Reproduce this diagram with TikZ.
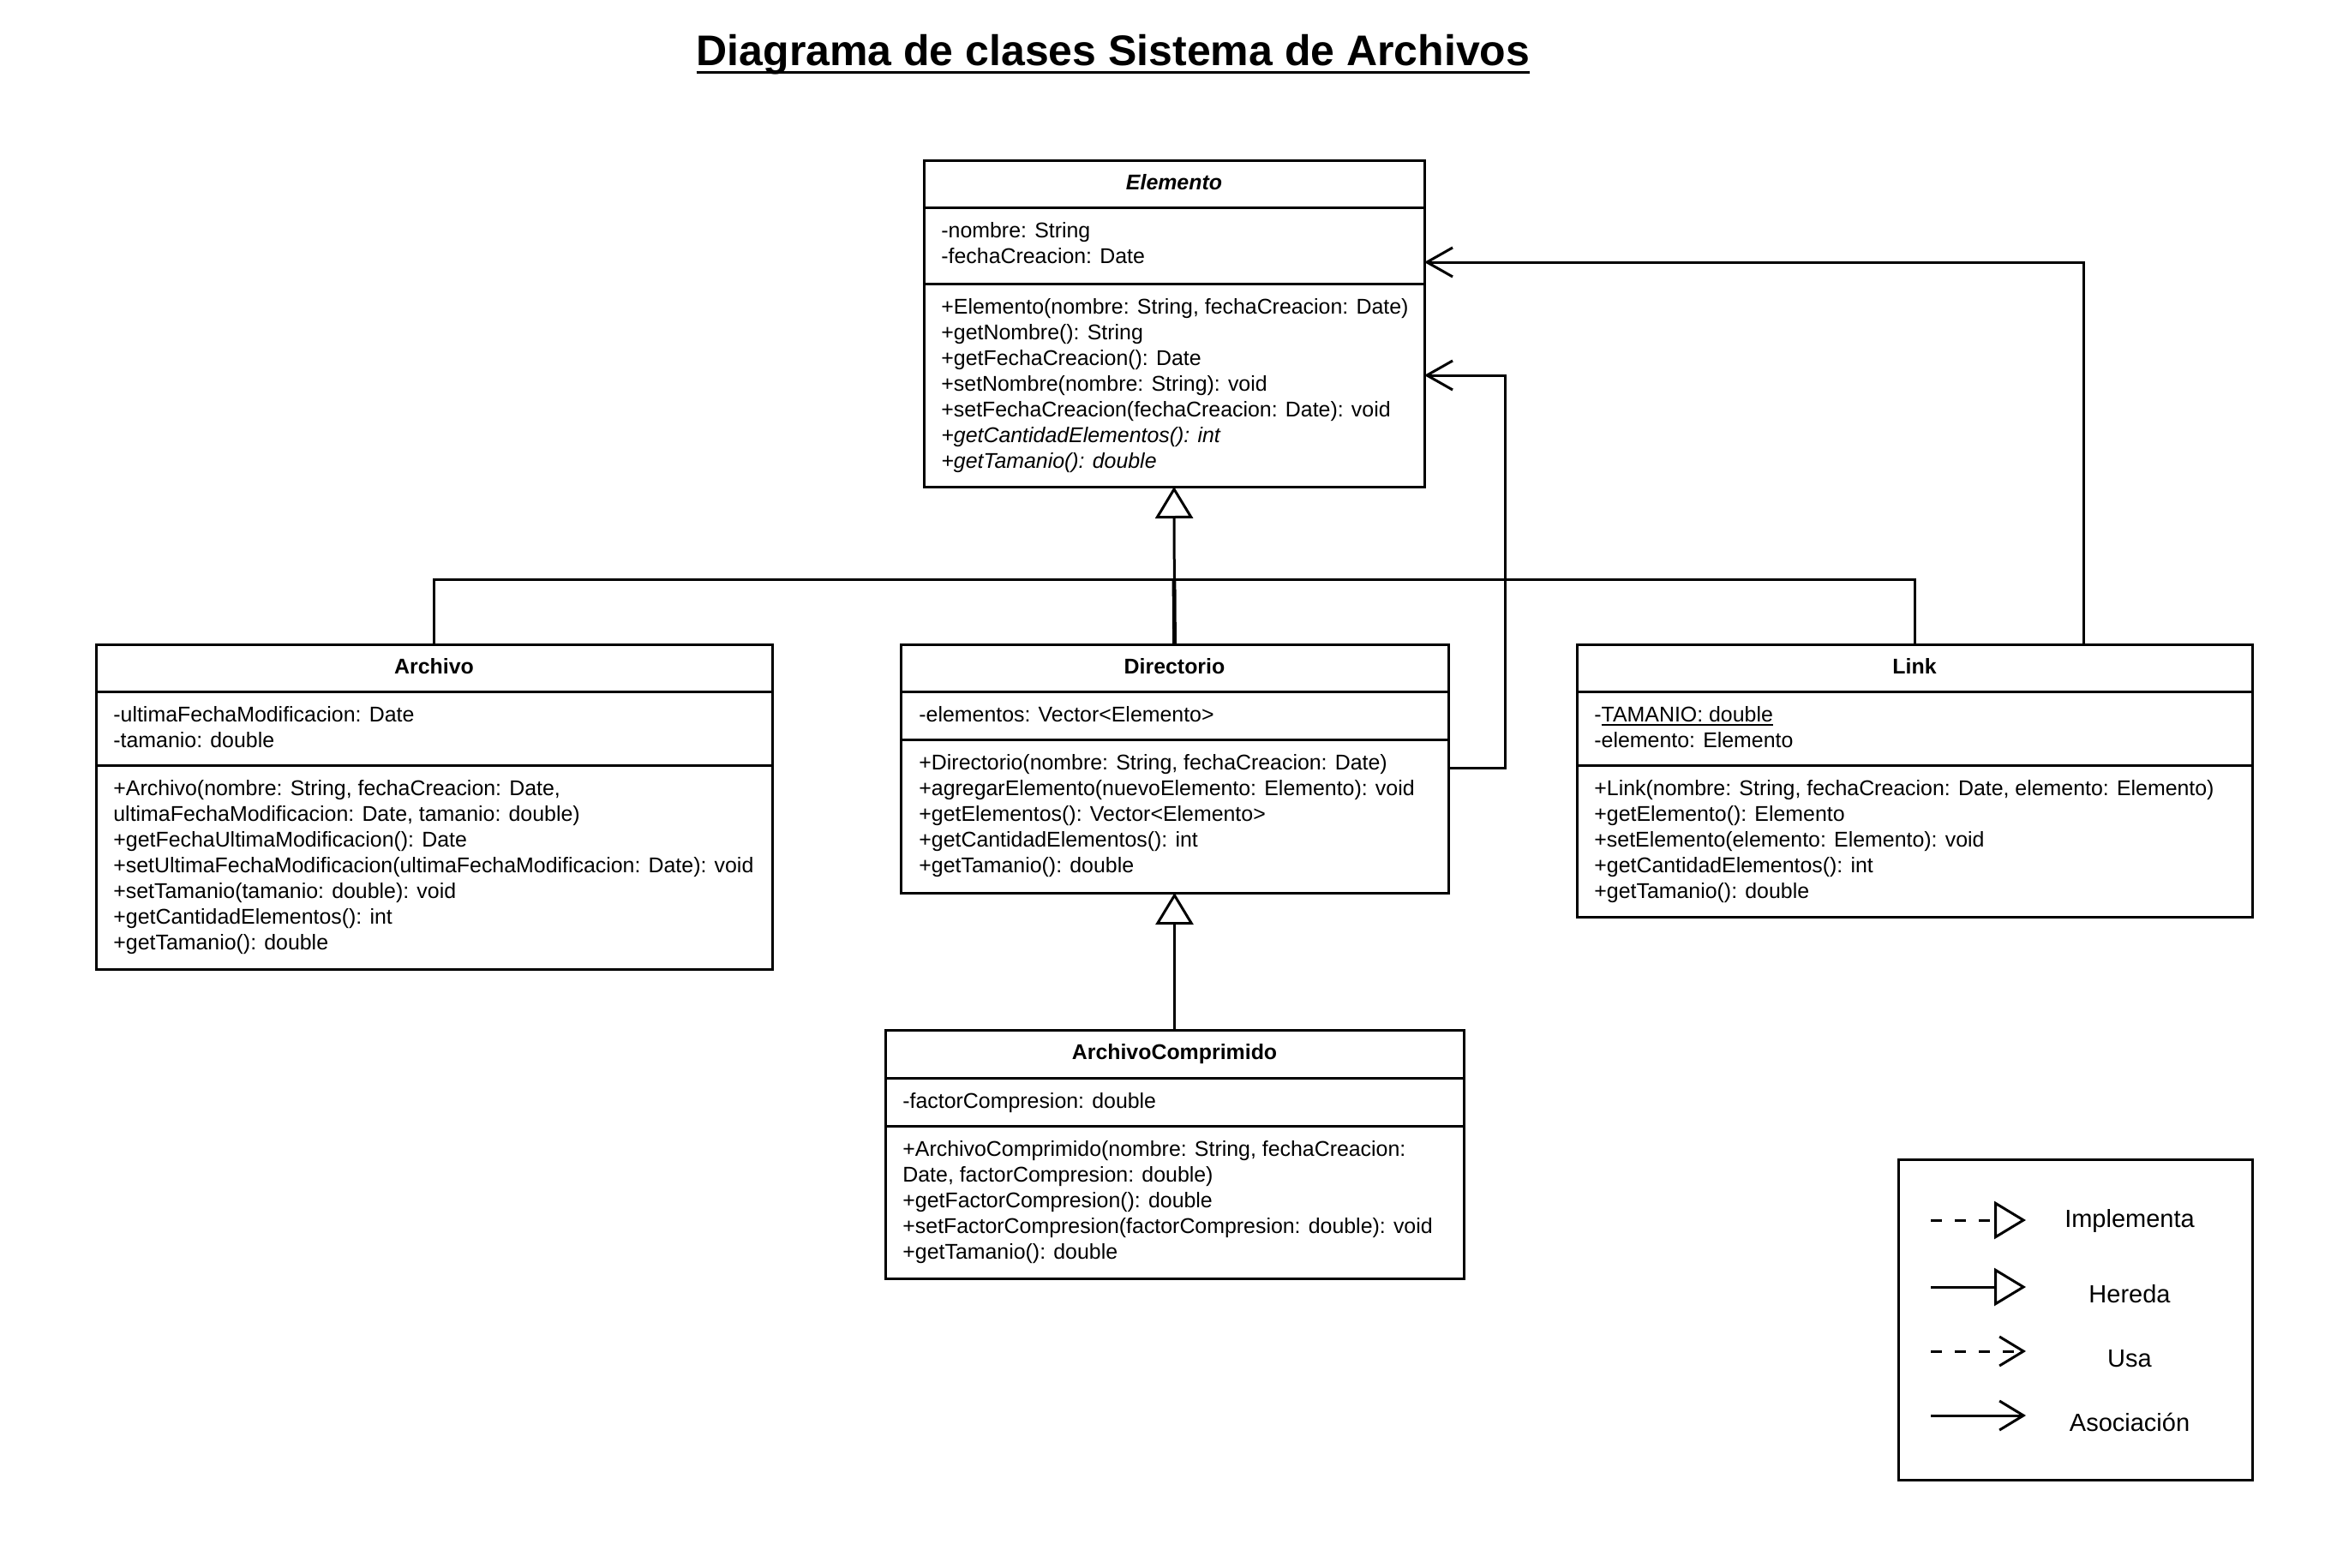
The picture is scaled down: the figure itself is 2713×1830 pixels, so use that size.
\documentclass[tikz,border=0pt]{standalone}
\usepackage{fontspec}
\setmainfont{Liberation Sans}
\usetikzlibrary{arrows.meta}
\newcommand{\myul}[3]{\setbox0\hbox{#3}\rlap{\rule[#1]{\wd0}{#2}}\box0}
\newcommand{\mlines}[1]{\begin{tabular}[t]{@{}l@{}}#1\end{tabular}}
\begin{document}
\begin{tikzpicture}[x=0.5pt,y=-0.5pt,
  lw/.style={line width=1.5pt},
  classbox/.style={draw, lw, rectangle, inner sep=0pt, outer sep=0pt, fill=white, anchor=north west},
  txt/.style={inner sep=0pt, anchor=base west, font=\fontsize{12.45pt}{15pt}\selectfont},
  hdr/.style={inner sep=0pt, anchor=base, font=\fontsize{12.45pt}{15pt}\selectfont\bfseries},
  inherit/.style={lw, -{Triangle[length=18.5pt, width=22pt, fill=white]}},
  assoc/.style={lw, -{Straight Barb[length=15pt, width=17pt]}},
  legtxt/.style={inner sep=0pt, anchor=base, font=\fontsize{14.5pt}{17pt}\selectfont},
  legdash/.style={dash pattern=on 6.5pt off 7.5pt},
]
\fill[white] (0,0) rectangle (2713,1830);
\useasboundingbox (0,0) rectangle (2713,1830);

% Title
\node[anchor=base, inner sep=0pt, font=\fontsize{25pt}{30pt}\selectfont\bfseries] (title) at (1299,77)
  {\myul{-4.75pt}{1.5pt}{Diagrama de clases Sistema de Archivos}};

% ---------- Elemento ----------
\node[classbox, minimum width=292pt, minimum height=190pt] (elem) at (1078,188) {};
\draw[lw] (elem.west |- 0,243) -- (elem.east |- 0,243);
\draw[lw] (elem.west |- 0,331) -- (elem.east |- 0,331);
\node[hdr] (elemh) at (1370,222) {\textit{Elemento}};
\node[txt] (elema) at (1098,278) {\mlines{-nombre: String\\-fechaCreacion: Date}};
\node[txt] (elemm) at (1098,366) {\mlines{+Elemento(nombre: String, fechaCreacion: Date)\\
+getNombre(): String\\
+getFechaCreacion(): Date\\
+setNombre(nombre: String): void\\
+setFechaCreacion(fechaCreacion: Date): void\\
\textit{+getCantidadElementos(): int}\\
\textit{+getTamanio(): double}}};

% ---------- Archivo ----------
\node[classbox, minimum width=394.5pt, minimum height=189.5pt] (arch) at (112,752) {};
\draw[lw] (arch.west |- 0,807) -- (arch.east |- 0,807);
\draw[lw] (arch.west |- 0,893) -- (arch.east |- 0,893);
\node[hdr] (archh) at (506.5,786) {Archivo};
\node[txt] (archa) at (132,842) {\mlines{-ultimaFechaModificacion: Date\\-tamanio: double}};
\node[txt] (archm) at (132,928) {\mlines{+Archivo(nombre: String, fechaCreacion: Date,\\
ultimaFechaModificacion: Date, tamanio: double)\\
+getFechaUltimaModificacion(): Date\\
+setUltimaFechaModificacion(ultimaFechaModificacion: Date): void\\
+setTamanio(tamanio: double): void\\
+getCantidadElementos(): int\\
+getTamanio(): double}};

% ---------- Directorio ----------
\node[classbox, minimum width=319.5pt, minimum height=145pt] (dir) at (1051,752) {};
\draw[lw] (dir.west |- 0,807) -- (dir.east |- 0,807);
\draw[lw] (dir.west |- 0,863) -- (dir.east |- 0,863);
\node[hdr] (dirh) at (1370.5,786) {Directorio};
\node[txt] (dira) at (1072,842) {\mlines{-elementos: Vector<Elemento>}};
\node[txt] (dirm) at (1072,898) {\mlines{+Directorio(nombre: String, fechaCreacion: Date)\\
+agregarElemento(nuevoElemento: Elemento): void\\
+getElementos(): Vector<Elemento>\\
+getCantidadElementos(): int\\
+getTamanio(): double}};

% ---------- Link ----------
\node[classbox, minimum width=394pt, minimum height=159pt] (link) at (1840,752) {};
\draw[lw] (link.west |- 0,807) -- (link.east |- 0,807);
\draw[lw] (link.west |- 0,893) -- (link.east |- 0,893);
\node[hdr] (linkh) at (2234,786) {Link};
\node[txt] (linka) at (1860,842) {\mlines{-\myul{-2.3pt}{0.7pt}{TAMANIO: double}\\-elemento: Elemento}};
\node[txt] (linkm) at (1860,928) {\mlines{+Link(nombre: String, fechaCreacion: Date, elemento: Elemento)\\
+getElemento(): Elemento\\
+setElemento(elemento: Elemento): void\\
+getCantidadElementos(): int\\
+getTamanio(): double}};

% ---------- ArchivoComprimido ----------
\node[classbox, minimum width=337.5pt, minimum height=145pt] (ac) at (1033,1202) {};
\draw[lw] (ac.west |- 0,1258) -- (ac.east |- 0,1258);
\draw[lw] (ac.west |- 0,1314) -- (ac.east |- 0,1314);
\node[hdr] (ach) at (1370.5,1236.5) {ArchivoComprimido};
\node[txt] (aca) at (1053,1293) {\mlines{-factorCompresion: double}};
\node[txt] (acm) at (1053,1349) {\mlines{+ArchivoComprimido(nombre: String, fechaCreacion:\\
Date, factorCompresion: double)\\
+getFactorCompresion(): double\\
+setFactorCompresion(factorCompresion: double): void\\
+getTamanio(): double}};

% ---------- Connectors ----------
\coordinate (hub) at (1370,676);
\draw[lw] (arch.north) |- (hub);
\draw[lw] (link.north) |- (hub);
\draw[line width=2.4pt] (dir.north) -- (hub);
\draw[inherit] (dir.north) -- (elem.south);
\draw[inherit] (ac.north) -- (dir.south);

\coordinate (lkup) at (2431,306);
\draw[assoc] (link.north -| lkup) |- (elem.east |- lkup);
\coordinate (dirR) at (1756,896);
\coordinate (dirT) at (1756,438);
\draw[assoc] (dir.east |- dirR) -- (dirR) -- (dirT) -- (elem.east |- dirT);

% ---------- Legend ----------
\node[classbox, minimum width=206.5pt, minimum height=187pt] (leg) at (2215,1353) {};
\coordinate (l1a) at (2253,1424); \coordinate (l1b) at (2364,1424);
\coordinate (l2a) at (2253,1502); \coordinate (l2b) at (2364,1502);
\coordinate (l3a) at (2253,1577); \coordinate (l3b) at (2364,1577);
\coordinate (l4a) at (2253,1652); \coordinate (l4b) at (2364,1652);
\draw[inherit, legdash] (l1a) -- (l1b);
\draw[inherit] (l2a) -- (l2b);
\draw[lw, legdash, -{Straight Barb[length=14pt, width=17pt]}] (l3a) -- (l3b);
\draw[lw, -{Straight Barb[length=14pt, width=17pt]}] (l4a) -- (l4b);
\node[legtxt] (leg1) at (2485,1432) {Implementa};
\node[legtxt] (leg2) at (2485,1520) {Hereda};
\node[legtxt] (leg3) at (2485,1595) {Usa};
\node[legtxt] (leg4) at (2485,1670) {Asociación};
\end{tikzpicture}
\end{document}
